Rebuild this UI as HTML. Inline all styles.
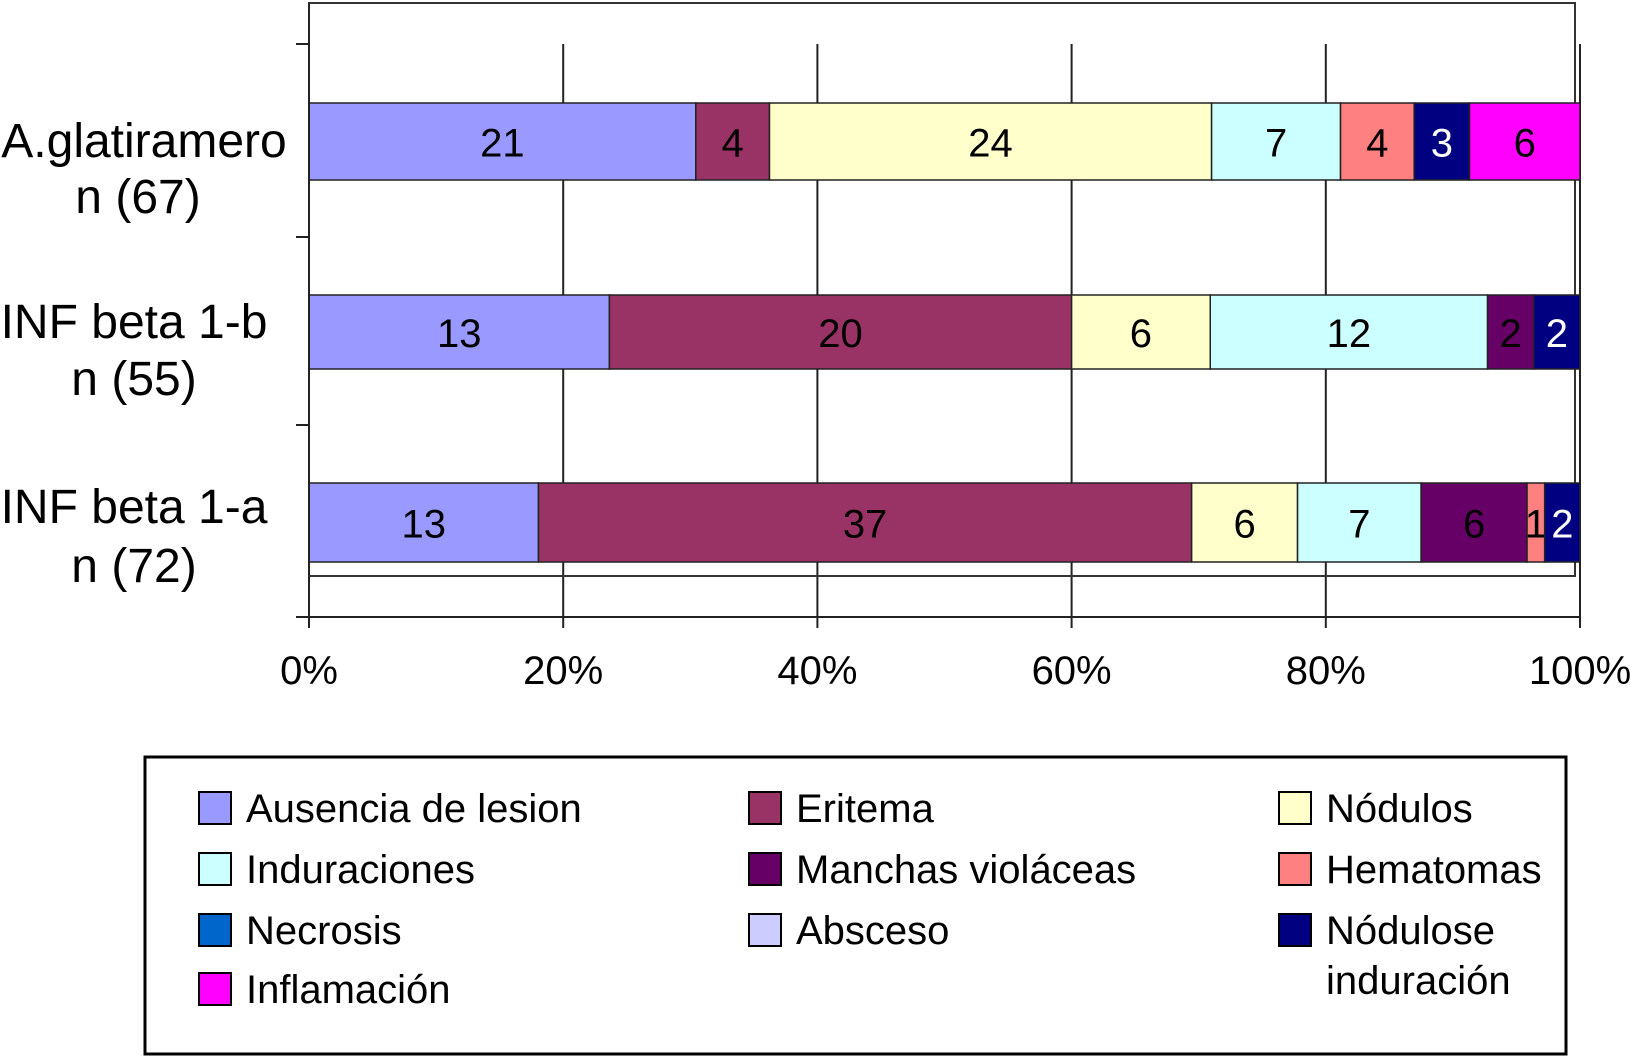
<!DOCTYPE html>
<html><head><meta charset="utf-8"><style>
html,body{margin:0;padding:0;background:#fff;}
svg{display:block;font-family:"Liberation Sans",Arial,sans-serif;}
</style></head><body>
<svg id="chart" width="1641" height="1056" viewBox="0 0 1641 1056">
<g id="grid"></g>
<g id="bars"></g>
<g id="axes"></g>
<g id="legend"></g>
</svg>
<script>
const categories = ["A.glatiramero", "INF beta 1-b", "INF beta 1-a"];
const categoryN = ["n (67)", "n (55)", "n (72)"];
const seriesNames = ["Ausencia de lesion","Eritema","Nódulos","Induraciones","Manchas violáceas","Hematomas","Necrosis","Absceso","Nódulose induración","Inflamación"];
const seriesColors = ["#9999ff","#993366","#ffffcc","#ccffff","#660066","#ff8080","#0066cc","#ccccff","#000080","#ff00ff"];
const bar1Values = [21,4,24,7,0,4,0,0,3,6];
const bar2Values = [13,20,6,12,2,0,0,0,2,0];
const bar3Values = [13,37,6,7,6,1,0,0,2,0];
const stackOrder = [0,1,2,3,4,5,6,7,8,9];
const xTicks = [0,20,40,60,80,100];
const xTickLabels = ["0%","20%","40%","60%","80%","100%"];

const NS="http://www.w3.org/2000/svg";
function mk(tag,attrs,parent,text){const e=document.createElementNS(NS,tag);for(const k in attrs)e.setAttribute(k,attrs[k]);if(text!==undefined)e.textContent=text;parent.appendChild(e);return e;}
const X0=309,X1=1580;
function xs(p){return X0+(X1-X0)*p/100;}
const barTops=[103,295,483], barH=[77,74,79];
const rows=[bar1Values,bar2Values,bar3Values];
const grid=document.getElementById('grid'),bars=document.getElementById('bars'),axes=document.getElementById('axes'),legend=document.getElementById('legend');

let fr=mk('rect',{x:309,y:3,width:1266,height:573,fill:'none',stroke:'#333','stroke-width':2},grid);


xTicks.forEach((t,i)=>{
  if(i>0){let l=mk('line',{x1:xs(t),x2:xs(t),y1:44,y2:628,stroke:'#222','stroke-width':2},grid);
  
  }
  let tx=mk('text',{x:xs(t),y:684,'font-size':40,'text-anchor':'middle',fill:'#000'},axes,xTickLabels[i]);
  
  
});
let ax=mk('line',{x1:296,x2:1580,y1:617,y2:617,stroke:'#222','stroke-width':2},axes);


let ay=mk('line',{x1:309,x2:309,y1:3,y2:628,stroke:'#222','stroke-width':2},axes);


[44,237,425,617].forEach(y=>{let t=mk('line',{x1:296,x2:309,y1:y,y2:y,stroke:'#222','stroke-width':2},axes);

});

const labelBase=[[157,213],[338,395],[523,582]];
const labelCx=[[144,138],[134,134],[134,134]];
rows.forEach((vals,r)=>{
  const total=vals.reduce((a,b)=>a+b,0);
  let acc=0;
  stackOrder.forEach(s=>{
    const v=vals[s]; if(!v) return;
    const xa=xs(acc/total*100), xb=xs((acc+v)/total*100); acc+=v;
    let rc=mk('rect',{x:xa,y:barTops[r],width:xb-xa,height:barH[r],fill:seriesColors[s],stroke:'#222','stroke-width':1.5},bars);
    
    
    let tl=mk('text',{x:(xa+xb)/2,y:barTops[r]+barH[r]/2+15,'font-size':40,'text-anchor':'middle',fill:(s===8?'#fff':'#000')},bars,String(v));
    
    
  });
  let c1=mk('text',{x:labelCx[r][0],y:labelBase[r][0],'font-size':48,'text-anchor':'middle',fill:'#000'},axes,categories[r]);
  
  
  let c2=mk('text',{x:labelCx[r][1],y:labelBase[r][1],'font-size':48,'text-anchor':'middle',fill:'#000'},axes,categoryN[r]);
  
  
});
let fb=mk('line',{x1:309,x2:1575,y1:576,y2:576,stroke:'#333','stroke-width':2},grid);



let lb=mk('rect',{x:145,y:757,width:1421,height:297,fill:'#fff',stroke:'#000','stroke-width':3},legend);


const legCols=[199,749,1279], legRows=[808,869,930,989];
const legendOrder=[0,1,2,3,4,5,6,7,8,9];
legendOrder.forEach((s,i)=>{
  const c=i<9?i%3:0, r=Math.floor(i/3);
  const x=legCols[c], y=legRows[r];
  let sw=mk('rect',{x:x,y:y-16,width:32,height:32,fill:seriesColors[s],stroke:'#000','stroke-width':2},legend);
  
  
  if(s===8){
    let t1=mk('text',{x:x+47,y:y+14,'font-size':40,fill:'#000'},legend,'Nódulose');
    
    
    let t2=mk('text',{x:x+47,y:y+64,'font-size':40,fill:'#000'},legend,'induración');
    
    
  } else {
    let t=mk('text',{x:x+47,y:y+14,'font-size':40,fill:'#000'},legend,seriesNames[s]);
    
    
  }
});
</script>
</body></html>
